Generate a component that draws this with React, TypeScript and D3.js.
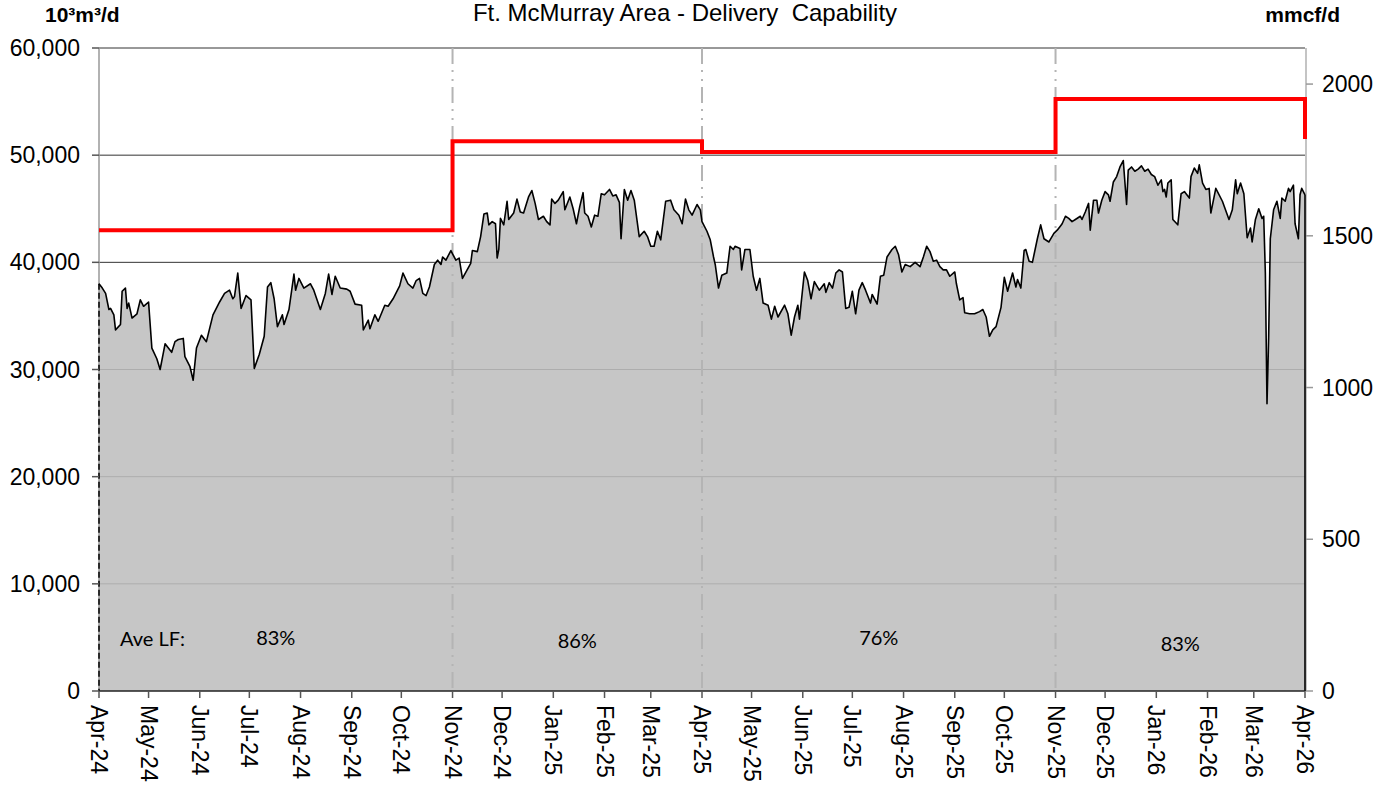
import React from "react";
import * as d3 from "d3";

// Daily delivery (10^3 m3/d) — [days since 2024-04-01, value]
const deliveryFlow: [number, number][] = [
  [0, 38000], [2, 37600], [4, 37100], [6, 35600], [7, 35700], [9, 35100], [10, 33700], [13, 34200],
  [14, 37300], [16, 37600], [17, 35700], [18, 36200], [20, 34800], [23, 35200], [25, 36500], [27, 35900],
  [30, 36300], [32, 32000], [35, 31000], [37, 30000], [40, 32400], [44, 31600], [46, 32600], [48, 32800],
  [51, 32900], [52, 31200], [55, 30300], [57, 29000], [59, 32000], [62, 33200], [65, 32600], [69, 35100],
  [73, 36300], [76, 37100], [79, 37400], [81, 36600], [82, 36800], [84, 39000], [86, 35700], [89, 36900],
  [92, 36500], [94, 30100], [97, 31400], [100, 33100], [102, 37700], [104, 38100], [106, 36600], [108, 34000],
  [111, 35100], [112, 34200], [115, 35600], [118, 38900], [119, 37400], [121, 38500], [124, 37600], [128, 38000],
  [130, 37400], [134, 35600], [137, 37100], [139, 38900], [141, 37000], [143, 38700], [146, 37600], [150, 37500],
  [152, 37300], [155, 36100], [159, 36000], [160, 33700], [163, 34600], [164, 33800], [167, 35100], [169, 34500],
  [173, 36000], [175, 35900], [178, 36600], [182, 37800], [184, 39000], [187, 38000], [190, 37600], [192, 38300],
  [194, 38500], [196, 37100], [198, 36900], [200, 37700], [203, 39800], [205, 40200], [207, 39800], [208, 40500],
  [210, 40200], [213, 41100], [214, 40800], [216, 40200], [218, 40400], [220, 38500], [225, 39900], [226, 41100],
  [229, 41000], [231, 42400], [233, 44500], [235, 44600], [236, 43500], [238, 43800], [240, 43600], [241, 40400],
  [242, 41200], [243, 44100], [245, 43500], [247, 45700], [248, 44000], [251, 44600], [253, 45900], [255, 44700],
  [257, 44600], [260, 46100], [262, 46700], [264, 45500], [266, 44000], [269, 44300], [271, 43800], [273, 43500],
  [274, 45900], [276, 45500], [278, 45800], [281, 46600], [282, 44900], [285, 46100], [287, 45000], [289, 43600],
  [291, 45200], [293, 46500], [294, 44600], [296, 44300], [298, 43300], [300, 44400], [302, 44300], [304, 46400],
  [306, 46300], [309, 46800], [311, 46200], [313, 46300], [315, 45600], [316, 42200], [318, 46800], [320, 45800],
  [322, 46700], [324, 45800], [327, 42400], [330, 42900], [332, 42400], [334, 41500], [336, 41500], [338, 42900],
  [340, 42100], [343, 45700], [346, 45800], [348, 44900], [351, 44400], [353, 43600], [355, 45900], [357, 44900],
  [359, 44400], [362, 45400], [364, 44900], [365, 43800], [368, 42900], [370, 42100], [372, 40500], [373, 39800],
  [375, 37600], [377, 38800], [380, 39000], [382, 41500], [384, 41200], [385, 41500], [388, 41300], [389, 39300],
  [391, 41200], [394, 41200], [396, 38700], [398, 37400], [400, 38500], [402, 36200], [405, 36000], [407, 34700],
  [409, 35900], [411, 34900], [415, 36000], [417, 35200], [419, 33200], [421, 34900], [423, 36000], [424, 34700],
  [427, 39100], [429, 38300], [431, 36600], [433, 38200], [436, 37400], [439, 38000], [440, 37200], [442, 38100],
  [444, 37600], [446, 39000], [448, 39300], [450, 39100], [452, 35700], [454, 35800], [456, 37300], [458, 35200],
  [460, 37400], [462, 38100], [464, 37400], [467, 36200], [468, 37000], [471, 36100], [473, 38700], [475, 38800],
  [477, 40500], [480, 41200], [482, 41500], [484, 40700], [486, 39100], [488, 39800], [491, 39600], [494, 40000],
  [497, 39600], [499, 40500], [501, 41500], [503, 41000], [505, 40100], [507, 40200], [509, 39600], [511, 39300],
  [513, 39300], [515, 38700], [518, 39100], [519, 38000], [521, 36500], [523, 36700], [524, 35300], [527, 35200],
  [530, 35200], [533, 35400], [535, 35600], [537, 34900], [539, 33100], [541, 33700], [543, 34000], [546, 35800],
  [548, 38600], [550, 37300], [553, 39000], [555, 37700], [556, 38400], [558, 37600], [560, 41100], [561, 41200],
  [563, 40100], [565, 40000], [568, 42200], [570, 43500], [572, 42200], [575, 41900], [578, 42700], [580, 43000],
  [582, 43400], [583, 43600], [585, 44300], [587, 44100], [589, 43800], [591, 44000], [594, 44300], [595, 44000],
  [597, 44700], [599, 45500], [600, 43000], [602, 45800], [604, 45800], [605, 44600], [607, 45800], [609, 46600],
  [611, 46300], [612, 45700], [614, 47500], [616, 48000], [618, 48900], [620, 49500], [622, 45400], [623, 48600],
  [625, 48900], [627, 48500], [629, 48700], [631, 49000], [633, 48500], [635, 48700], [637, 48200], [639, 48000],
  [641, 47200], [643, 47700], [644, 46600], [645, 46800], [646, 46100], [647, 47400], [649, 47700], [650, 44000],
  [653, 43500], [655, 46400], [657, 46600], [658, 46400], [660, 46000], [661, 48000], [663, 48800], [665, 48300],
  [666, 49100], [668, 47400], [670, 46800], [672, 46900], [673, 44600], [676, 46900], [680, 45700], [684, 44000],
  [686, 44900], [688, 47700], [689, 46400], [691, 47400], [693, 46400], [695, 42300], [697, 43200], [698, 41900],
  [700, 44000], [702, 45000], [704, 44100], [705, 44300], [706, 39000], [707, 26800], [708, 33000], [709, 42200],
  [711, 44900], [713, 45700], [715, 44100], [716, 46000], [718, 45700], [720, 46900], [721, 46600], [723, 47200],
  [724, 43600], [726, 42200], [727, 46300], [728, 46900], [730, 46300],
];

// Delivery capability step line — [days since 2024-04-01, value]
const capabilitySteps: [number, number][] = [
  [0, 43000], [214, 51300], [365, 50300], [579, 55250], [730, 51500],
];

const leftTicks = [0, 10000, 20000, 30000, 40000, 50000, 60000];
const rightTicks = [0, 500, 1000, 1500, 2000];
const seasonBreaks = [214, 365, 579];
const loadFactorLabels = ["83%", "86%", "76%", "83%"];
const loadFactorLevels = [5000, 4750, 5000, 4450];
const periodBounds = [0, 214, 365, 579, 730];

const startDate = new Date(Date.UTC(2024, 3, 1));
const endDate = new Date(Date.UTC(2026, 3, 1));
const M3_TO_MMCF = 0.0353147;

const W = 1384;
const H = 786;
const plot = { left: 99, right: 1305, top: 48, bottom: 691 };

export default function App() {
  const x = d3.scaleLinear().domain([0, 730]).range([plot.left, plot.right]);
  const y = d3.scaleLinear().domain([0, 60000]).range([plot.bottom, plot.top]);
  const yR = d3.scaleLinear().domain([0, 60000 * M3_TO_MMCF]).range([plot.bottom, plot.top]);

  const months = d3.utcMonth.range(startDate, d3.utcMonth.offset(endDate, 1));
  const monthFmt = d3.utcFormat("%b-%y");
  const dayOf = (d: Date) => d3.utcDay.count(startDate, d);

  const area = d3
    .area<[number, number]>()
    .x((d) => x(d[0]))
    .y0(y(0))
    .y1((d) => y(d[1]))
    .curve(d3.curveLinear);
  const line = d3
    .line<[number, number]>()
    .x((d) => x(d[0]))
    .y((d) => y(d[1]));
  const stepLine = d3
    .line<[number, number]>()
    .x((d) => x(d[0]))
    .y((d) => y(d[1]))
    .curve(d3.curveStepAfter);

  const first = deliveryFlow[0];
  const last = deliveryFlow[deliveryFlow.length - 1];
  const font = "'Liberation Sans', Arial, sans-serif";
  const lfFont = "Lato, 'Noto Sans', sans-serif";
  const fmt = d3.format(",");

  return (
    <svg
      width={W}
      height={H}
      style={{ position: "absolute", left: 0, top: 0, background: "#fff" }}
      fontFamily={font}
    >
      {/* gridlines (behind translucent area) */}
      {leftTicks.filter((t) => t > 0).map((t) => (
        <line key={"g" + t} x1={plot.left} x2={plot.right} y1={y(t)} y2={y(t)} stroke="#333" strokeWidth={1} />
      ))}

      {/* area */}
      <path d={area(deliveryFlow) || ""} fill="rgb(190,190,190)" fillOpacity={0.88} />

      {/* season break lines */}
      {seasonBreaks.map((d) => (
        <line
          key={"s" + d}
          x1={x(d)}
          x2={x(d)}
          y1={plot.top}
          y2={plot.bottom}
          stroke="#b4b4b4"
          strokeWidth={2}
          strokeDasharray="16,6,2,7,2,6"
        />
      ))}

      {/* right axis line */}
      <line x1={plot.right + 1} x2={plot.right + 1} y1={plot.top} y2={plot.bottom} stroke="#b0b0b0" strokeWidth={1.5} />
      {/* left axis line */}
      <line x1={plot.left} x2={plot.left} y1={plot.top} y2={plot.bottom} stroke="#999" strokeWidth={1.5} />

      {/* series line */}
      <path d={line(deliveryFlow) || ""} fill="none" stroke="#000" strokeWidth={1.6} strokeLinejoin="round" />
      <line x1={x(first[0])} x2={x(first[0])} y1={y(first[1])} y2={y(0)} stroke="#000" strokeWidth={1.5} strokeDasharray="6,3" />
      <line x1={x(last[0])} x2={x(last[0])} y1={y(last[1])} y2={y(0)} stroke="#000" strokeWidth={1.6} />

      {/* capability step line */}
      <path d={stepLine(capabilitySteps) || ""} fill="none" stroke="#ff0000" strokeWidth={4} />

      {/* bottom axis */}
      <line x1={plot.left} x2={plot.right} y1={plot.bottom} y2={plot.bottom} stroke="#222" strokeWidth={1.5} />
      {months.map((m) => {
        const xx = x(dayOf(m));
        return (
          <g key={m.toISOString()}>
            <line x1={xx} x2={xx} y1={plot.bottom} y2={plot.bottom + 7} stroke="#555" strokeWidth={1.5} />
            <text
              transform={`translate(${xx},${plot.bottom + 14}) rotate(90)`}
              fontSize={23}
              dominantBaseline="central"
              textAnchor="start"
              fill="#000"
            >
              {monthFmt(m)}
            </text>
          </g>
        );
      })}

      {/* left axis ticks */}
      {leftTicks.map((t) => (
        <g key={"l" + t}>
          <line x1={plot.left - 7} x2={plot.left} y1={y(t)} y2={y(t)} stroke="#555" strokeWidth={1.5} />
          <text x={80} y={y(t)} fontSize={23} textAnchor="end" dominantBaseline="central" fill="#000">
            {fmt(t)}
          </text>
        </g>
      ))}

      {/* right axis ticks */}
      {rightTicks.map((t) => (
        <g key={"r" + t}>
          <line x1={plot.right + 1} x2={plot.right + 8} y1={yR(t)} y2={yR(t)} stroke="#999" strokeWidth={1.5} />
          <text x={1322} y={yR(t)} fontSize={23} textAnchor="start" dominantBaseline="central" fill="#000">
            {t}
          </text>
        </g>
      ))}

      {/* titles */}
      <text x={685} y={21} fontSize={24} textAnchor="middle" fill="#000">
        Ft. McMurray Area - Delivery{"\u00a0"} Capability
      </text>
      <text x={45} y={22} fontSize={21} fontWeight="bold" fill="#000">
        10³m³/d
      </text>
      <text x={1340} y={22} fontSize={21} fontWeight="bold" textAnchor="end" fill="#000">
        mmcf/d
      </text>

      {/* load factor annotations */}
      <text x={120} y={y(4950)} fontSize={20} fontFamily={lfFont} dominantBaseline="central" fill="#000">
        Ave LF:
      </text>
      {loadFactorLabels.map((lab, i) => (
        <text
          key={"lf" + i}
          x={x((periodBounds[i] + periodBounds[i + 1]) / 2)}
          y={y(loadFactorLevels[i])}
          fontSize={20}
          fontFamily={lfFont}
          textAnchor="middle"
          dominantBaseline="central"
          fill="#000"
        >
          {lab}
        </text>
      ))}
    </svg>
  );
}
